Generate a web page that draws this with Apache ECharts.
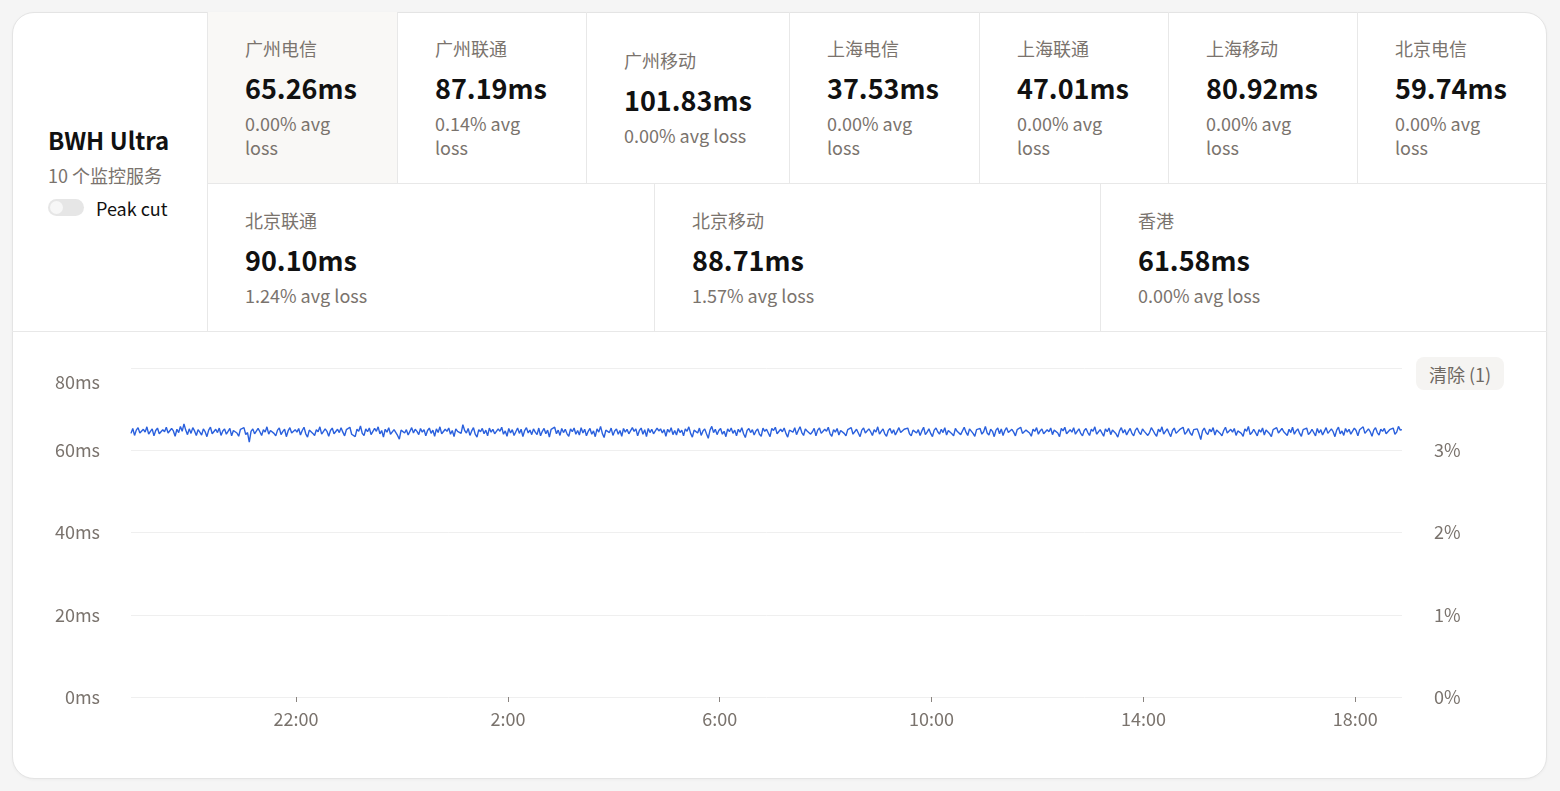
<!DOCTYPE html>
<html>
<head>
<meta charset="utf-8">
<script src="https://cdn.jsdelivr.net/npm/echarts@6/dist/echarts.min.js"></script>
<style>
  html,body{margin:0;padding:0;width:1560px;height:791px;background:#f5f5f5;overflow:hidden;
    font-family:"Noto Sans CJK SC","Noto Sans",sans-serif;}
  #card{position:absolute;left:12px;top:12px;width:1535px;height:767px;box-sizing:border-box;
    background:#fff;border:1px solid #e4e4e4;border-radius:22px;box-shadow:0 1px 3px rgba(0,0,0,0.04);overflow:hidden;}
  .abs{position:absolute;box-sizing:border-box;}
  .cell{display:flex;flex-direction:column;justify-content:center;padding-left:37px;border-left:1px solid #e8e8e8;border-bottom:1px solid #e8e8e8;}
  .cell.sel{background:#f9f8f6;}
  .nm{font-size:18px;line-height:24px;color:#7a736d;margin-bottom:10px;white-space:nowrap;}
  .val{font-size:27px;line-height:36px;font-weight:700;color:#111;margin-bottom:5px;white-space:nowrap;}
  .loss{font-size:18px;line-height:24px;color:#7a736d;white-space:nowrap;}
  #left{left:12px;top:12px;width:195px;height:320px;display:flex;flex-direction:column;justify-content:center;padding-left:36px;border-bottom:1px solid #e8e8e8;}
  #title{font-size:24px;line-height:32px;font-weight:700;color:#111;}
  #sub{font-size:18px;line-height:24px;color:#7a736d;margin-top:7px;}
  #tog{display:flex;align-items:center;margin-top:9px;height:24px;font-size:18px;color:#111;}
  #sw{width:36px;height:17px;border-radius:9px;background:#e6e6e6;position:relative;margin-right:12px;}
  #sw i{position:absolute;left:2px;top:2px;width:13px;height:13px;border-radius:50%;background:#f7f7f7;}
  #chart{left:12px;top:332px;width:1535px;height:447px;}
  #clr{left:1416px;top:357px;width:88px;height:33px;border-radius:8px;background:#f5f4f2;color:#6e6862;
    font-size:18px;display:flex;align-items:center;justify-content:center;}
</style>
</head>
<body>
<div id="card"></div>
<div class="abs" id="left">
  <div id="title">BWH Ultra</div>
  <div id="sub">10 个监控服务</div>
  <div id="tog"><div id="sw"><i></i></div>Peak cut</div>
</div>
<div id="cells"></div>
<div class="abs" id="chart"></div>
<div class="abs" id="clr">清除 (1)</div>
<script>
// ---- header stats ----
const serviceNames = ['广州电信','广州联通','广州移动','上海电信','上海联通','上海移动','北京电信','北京联通','北京移动','香港'];
const serviceLatency = ['65.26','87.19','101.83','37.53','47.01','80.92','59.74','90.10','88.71','61.58'];
const serviceLoss = ['0.00','0.14','0.00','0.00','0.00','0.00','0.00','1.24','1.57','0.00'];

// ---- chart data: 广州电信 latency (ms), every 2 minutes over 24h ----
const startTime = [18, 53];           // 18:53 on day 1
const stepMinutes = 2;
const latencyMs = [
 64.1,65.3,63.6,64.9,65.5,64.2,63.8,65.1,64.4,65.7,63.9,64.6,65.2,63.5,64.8,65.4,64.0,63.7,65.0,64.5,
 65.6,64.2,63.9,65.3,64.7,63.4,65.1,64.3,65.8,64.6,66.4,64.9,63.8,65.2,64.1,65.5,64.7,63.6,65.0,64.4,
 63.7,65.2,64.5,63.3,64.9,65.6,64.0,63.8,65.1,64.3,65.4,63.6,64.7,65.2,63.9,64.6,65.3,63.5,64.8,65.0,
 64.2,63.4,65.1,64.7,65.5,63.8,64.3,62.0,64.6,65.2,64.0,63.7,65.3,64.5,63.6,65.0,64.4,65.7,63.9,64.8,
 65.2,64.1,63.5,64.9,65.4,63.8,64.6,65.1,63.3,64.7,65.5,64.2,63.9,65.0,64.4,65.3,63.7,64.8,65.6,64.0,
 63.2,64.9,65.3,64.1,63.6,65.0,64.5,65.7,63.9,64.2,65.2,64.6,63.4,64.8,65.4,64.0,63.7,65.1,64.3,65.5,
 64.4,63.5,65.0,64.7,65.6,63.9,64.2,63.3,65.1,64.6,65.9,64.1,63.6,65.2,64.5,65.4,63.8,64.0,65.3,64.6,
 65.7,64.0,64.8,63.2,65.1,64.4,65.5,63.9,64.3,65.0,64.7,63.6,62.7,64.9,65.3,64.2,65.0,63.7,64.6,65.5,
 64.2,65.1,64.6,63.8,65.3,64.4,65.0,63.5,64.8,65.4,64.1,64.9,63.4,65.2,64.3,65.7,64.0,63.8,65.1,64.6,
 65.4,63.9,64.8,63.3,65.2,64.6,65.0,64.1,66.2,64.8,64.2,65.3,63.6,64.7,65.5,63.9,63.2,65.0,64.5,65.3,
 64.0,64.9,63.5,65.4,64.4,65.1,64.0,63.7,65.2,64.6,65.6,63.9,64.7,63.4,65.3,64.2,65.0,63.6,64.5,65.4,
 64.1,65.1,63.3,64.8,65.5,64.2,64.9,63.8,65.2,64.4,63.8,65.4,63.5,64.6,65.3,64.0,64.9,63.2,65.1,64.7,
 65.6,64.0,64.9,63.6,65.3,64.3,65.1,64.0,63.4,65.2,64.5,65.4,63.9,64.8,63.7,65.5,64.2,65.1,63.5,64.6,
 65.3,63.9,64.7,63.3,65.2,64.4,65.8,64.1,63.1,64.9,65.1,64.3,65.4,63.6,64.7,65.2,63.9,64.8,63.4,65.3,
 64.4,65.1,64.0,63.7,65.5,64.6,65.2,63.5,64.8,65.4,63.9,65.0,63.3,65.3,64.3,65.1,64.0,63.6,65.4,64.7,
 65.2,64.2,65.0,63.4,65.1,64.4,65.5,63.8,64.8,63.7,65.3,64.3,64.9,63.5,65.2,64.6,65.7,64.1,63.2,64.9,
 65.1,64.2,65.4,63.6,64.7,65.2,64.0,62.9,64.9,65.8,64.3,65.1,63.8,64.8,65.3,63.9,64.6,63.3,65.2,64.5,
 65.4,64.1,64.9,63.5,65.1,64.4,65.5,64.0,63.1,64.8,65.3,64.3,65.0,63.7,64.7,65.2,63.9,63.4,65.4,64.6,
 65.1,64.2,63.3,65.3,64.8,65.6,64.0,63.6,65.1,64.5,65.4,64.1,63.2,64.9,65.2,64.4,65.5,63.8,64.8,65.7,
 64.3,63.6,65.2,64.7,65.0,63.9,64.5,65.3,63.5,64.9,65.4,64.1,63.8,65.1,64.6,65.6,64.0,63.4,65.0,64.4,
 65.3,63.7,64.8,65.2,64.1,63.5,65.0,64.6,65.5,63.9,64.3,65.1,64.7,63.3,64.9,65.4,64.2,63.8,65.2,64.5,
 63.6,65.0,64.4,65.7,63.9,64.6,65.2,64.0,63.4,64.8,65.3,64.1,65.0,63.7,64.6,65.5,64.3,63.9,65.1,64.7,
 65.4,64.0,63.5,64.9,65.3,64.2,65.0,63.6,64.7,65.6,63.8,64.4,65.2,64.1,63.3,64.9,65.4,64.5,63.9,65.1,
 64.3,65.5,63.7,64.8,65.1,64.0,63.5,65.3,64.6,65.0,63.8,64.2,65.6,64.4,63.6,65.2,64.9,64.1,63.4,65.0,
 64.7,65.3,63.9,64.5,65.8,64.2,63.7,65.1,64.6,63.3,64.9,65.4,64.0,65.2,63.6,64.8,65.5,64.3,63.9,65.1,
 64.4,63.5,65.0,64.8,65.6,64.1,63.8,64.9,65.3,64.2,63.4,65.1,64.6,65.5,63.9,64.7,65.2,64.0,63.6,65.0,
 64.5,65.4,63.8,64.9,65.1,64.2,63.3,65.3,64.7,65.6,64.0,63.7,65.0,64.4,65.5,63.9,64.6,65.2,64.1,63.5,
 64.8,65.3,64.3,63.6,65.1,64.6,65.7,63.9,64.2,65.0,64.7,63.4,65.2,64.5,65.4,63.8,64.9,65.1,64.0,63.2,
 64.7,65.5,64.2,65.0,63.7,64.6,65.3,64.1,63.5,64.9,65.4,64.4,63.8,65.2,64.6,65.0,63.6,64.3,65.5,64.8,
 64.0,63.4,65.1,64.5,65.7,63.9,64.6,65.2,64.2,63.3,64.8,65.4,64.1,63.7,65.0,64.6,65.6,63.9,64.4,65.3,
 64.2,63.6,65.0,64.8,65.2,64.0,62.6,64.7,65.4,64.3,63.8,65.1,64.5,65.5,63.7,64.9,65.3,64.1,63.5,64.8,
 65.6,64.2,63.9,65.1,64.4,65.3,63.6,64.7,65.0,64.1,63.4,65.2,64.6,65.8,63.8,64.3,65.1,64.7,63.5,65.0,
 64.4,65.4,63.7,64.9,65.2,64.0,63.3,65.0,64.6,65.5,64.2,63.8,65.3,64.5,64.9,63.6,65.1,64.3,65.6,63.9,
 64.7,65.2,64.1,63.4,65.0,64.6,65.4,63.8,64.3,65.1,64.8,63.5,65.3,64.2,65.0,63.7,64.6,65.5,64.1,63.9,
 65.2,64.5,63.3,64.9,65.6,64.0,64.7,63.6,65.3,64.4,65.1,63.9,64.2,65.4,64.8,63.5,65.0,64.6,65.7,64.1,
 63.8,65.2,64.5,63.4,64.9,65.5,64.3,63.7,65.1,64.6,65.3,64.0,63.6,65.0,64.7,65.4,63.9,64.4,65.8,64.9,
 65.0
];
const tickHours = [22, 2, 6, 10, 14, 18]; // tick label hours
const yTicksMs = [0, 80, 20];             // min, max, interval
const yTicksLoss = [0, 4, 1];

// ---- build header cells ----
const rowBounds = [[207,397],[397,586],[586,789],[789,979],[979,1168],[1168,1357],[1357,1547],
                   [207,654],[654,1100],[1100,1547]];
const wrapLoss = [true,true,false,true,true,true,true,false,false,false];
const cellsEl = document.getElementById('cells');
serviceNames.forEach((n, i) => {
  const d = document.createElement('div');
  d.className = 'abs cell' + (i === 0 ? ' sel' : '');
  const top = i < 7 ? 12 : 183, h = i < 7 ? 172 : 149;
  d.style.left = rowBounds[i][0] + 'px';
  d.style.width = (rowBounds[i][1] - rowBounds[i][0]) + 'px';
  d.style.top = top + 'px';
  d.style.height = h + 'px';
  const loss = serviceLoss[i] + '% avg' + (wrapLoss[i] ? '<br>' : ' ') + 'loss';
  d.innerHTML = '<div class="nm">' + n + '</div><div class="val">' + serviceLatency[i] +
    'ms</div><div class="loss">' + loss + '</div>';
  cellsEl.appendChild(d);
});

// ---- chart ----
const t0 = new Date(2024, 0, 1, startTime[0], startTime[1], 0).getTime();
const stepMs = stepMinutes * 60 * 1000;
const seriesData = latencyMs.map((v, i) => [t0 + i * stepMs, v]);
const tEnd = t0 + (latencyMs.length - 1) * stepMs;
const tickValues = tickHours.map((h, i) => new Date(2024, 0, i === 0 ? 1 : 2, h, 0, 0).getTime());

const labelColor = '#7a736d';
const chart = echarts.init(document.getElementById('chart'), null, {renderer: 'canvas'});
chart.setOption({
  animation: false,
  textStyle: {fontFamily: '"Noto Sans CJK SC","Noto Sans",sans-serif'},
  grid: {left: 119, right: 145, top: 36, bottom: 82, containLabel: false},
  xAxis: {
    type: 'value', min: t0, max: tEnd, scale: true,
    axisLine: {show: false},
    axisTick: {show: true, length: 5, lineStyle: {color: '#8a8480'}, customValues: tickValues},
    axisLabel: {
      customValues: tickValues, color: labelColor, fontSize: 18, margin: 13,
      formatter: v => { const d = new Date(v); return d.getHours() + ':' + String(d.getMinutes()).padStart(2, '0'); }
    },
    splitLine: {show: false}
  },
  yAxis: [
    {
      type: 'value', min: yTicksMs[0], max: yTicksMs[1], interval: yTicksMs[2],
      axisLine: {show: false}, axisTick: {show: false},
      axisLabel: {
        color: labelColor, fontSize: 18, margin: 31, verticalAlignMaxLabel: 'top',
        formatter: v => v === yTicksMs[1] ? '{t|' + v + 'ms}' : v + 'ms',
        rich: {t: {fontSize: 18, color: labelColor, padding: [5, 0, 0, 0]}}
      },
      splitLine: {lineStyle: {color: '#efefef', width: 1}}
    },
    {
      type: 'value', position: 'right', min: yTicksLoss[0], max: yTicksLoss[1], interval: yTicksLoss[2],
      axisLine: {show: false}, axisTick: {show: false},
      axisLabel: {formatter: '{value}%', color: labelColor, fontSize: 18, margin: 32, showMaxLabel: false},
      splitLine: {show: false}
    }
  ],
  series: [{
    name: '广州电信', type: 'line', yAxisIndex: 0, data: seriesData,
    showSymbol: false, symbol: 'none',
    lineStyle: {color: '#2a60dd', width: 1.4},
    itemStyle: {color: '#2a60dd'}
  }]
});
</script>
</body>
</html>
